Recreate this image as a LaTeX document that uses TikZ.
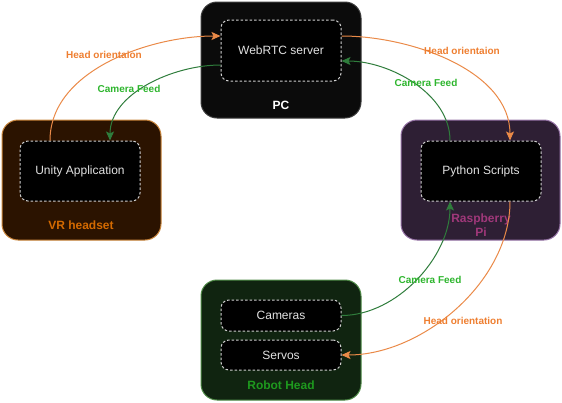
\documentclass[tikz,border=0pt]{standalone}
\usepackage{fontspec}
\setmainfont{Liberation Sans}
\usetikzlibrary{arrows.meta}
\definecolor{pcfill}{HTML}{0B0B0B}
\definecolor{pcdraw}{HTML}{3C3C3C}
\definecolor{vrfill}{HTML}{2B1300}
\definecolor{vrdraw}{HTML}{C8843A}
\definecolor{vrtext}{HTML}{D46A00}
\definecolor{pifill}{HTML}{2E1F34}
\definecolor{pidraw}{HTML}{9673A6}
\definecolor{pitext}{HTML}{A0387A}
\definecolor{rhfill}{HTML}{102410}
\definecolor{rhdraw}{HTML}{4E8A46}
\definecolor{rhtext}{HTML}{1E9A1E}
\definecolor{orangeline}{HTML}{EA8A48}
\definecolor{orangelabel}{HTML}{EE7E30}
\definecolor{greenline}{HTML}{2F7D3C}
\definecolor{greenlabel}{HTML}{2DB52D}
\definecolor{innertext}{HTML}{E2E2E2}
\definecolor{innerdash}{HTML}{D0D0D0}
\tikzset{
  container/.style={rounded corners=16pt, line width=1pt, inner sep=0pt},
  component/.style={draw=innerdash, fill=black, rounded corners=8pt, line width=1pt,
    dash pattern=on 2.5pt off 2pt, text=innertext, font=\fontsize{12}{14}\selectfont,
    minimum width=120pt, inner sep=0pt},
  title/.style={font=\bfseries\fontsize{12}{13}\selectfont, align=center, inner sep=0pt},
  orangeflow/.style={draw=orangeline, line width=1pt, -{Stealth[length=9pt,width=8pt,inset=2pt]}},
  greenflow/.style={draw=greenline, line width=1pt, -{Stealth[length=9pt,width=8pt,inset=2pt]}},
  flowlabel/.style={font=\bfseries\fontsize{10}{12}\selectfont, inner sep=1pt},
}
\begin{document}
\begin{tikzpicture}[x=1pt, y=-1pt]
\useasboundingbox (0,0) rectangle (562,402);

% containers
\draw[container, fill=pcfill, draw=pcdraw] (201,2) rectangle (361,118);
\draw[container, fill=vrfill, draw=vrdraw] (2,120) rectangle (161,240);
\draw[container, fill=pifill, draw=pidraw] (401,120) rectangle (560,240);
\draw[container, fill=rhfill, draw=rhdraw] (201,280) rectangle (361,400);

% container titles
\node[title, text=white] (pctitle) at (281,105) {PC};
\node[title, text=vrtext] (vrtitle) at (81,225) {VR headset};
\node[title, text=pitext, font=\bfseries\fontsize{12}{14}\selectfont] (pititle) at (481,225) {Raspberry\\Pi};
\node[title, text=rhtext] (rhtitle) at (281,385) {Robot Head};

% software components
\node[component, minimum height=61pt] (web) at (281,50.5) {WebRTC server};
\node[component, minimum height=60pt] (unity) at (80,171) {Unity Application};
\node[component, minimum height=60pt] (py) at (481,171) {Python Scripts};
\node[component, minimum height=31pt] (cam) at (281,315.5) {Cameras};
\node[component, minimum height=30pt] (servo) at (281,355) {Servos};

% data flows
\draw[orangeflow] ([xshift=-30pt]unity.north) to[out=90, in=180, looseness=0.9] ([yshift=14.5pt]web.west);
\draw[greenflow] ([yshift=-14.5pt]web.west) to[out=180, in=90, looseness=0.9] ([xshift=30pt]unity.north);
\draw[orangeflow] ([yshift=14.5pt]web.east) to[out=0, in=90, looseness=0.9] ([xshift=29pt]py.north);
\draw[greenflow] ([xshift=-31pt]py.north) to[out=90, in=0, looseness=0.9] ([yshift=-10.5pt]web.east);
\draw[greenflow] (cam.east) to[out=0, in=-90, looseness=0.9] ([xshift=-31pt]py.south);
\draw[orangeflow] ([xshift=29pt]py.south) to[out=-90, in=0, looseness=0.9] (servo.east);

% flow labels
\node[flowlabel, text=orangelabel] (l1) at (104,55) {Head orientaion};
\node[flowlabel, text=greenlabel] (l2) at (129,89) {Camera Feed};
\node[flowlabel, text=orangelabel] (l3) at (462,51) {Head orientaion};
\node[flowlabel, text=greenlabel] (l4) at (426,83) {Camera Feed};
\node[flowlabel, text=greenlabel] (l5) at (430,280) {Camera Feed};
\node[flowlabel, text=orangelabel] (l6) at (463,321) {Head orientation};
\end{tikzpicture}
\end{document}
